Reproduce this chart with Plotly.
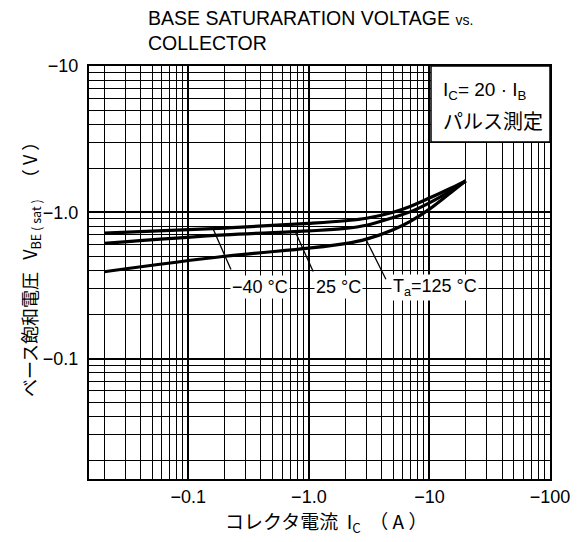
import numpy as np
import plotly.graph_objects as go

# ---- data (values are negative, as printed) ----
ic_a = [-0.02, -0.2, -1.0, -2.0, -3.0, -5.0, -7.0, -10.0, -15.0, -20.0]
vbe_m40 = [-0.72, -0.78, -0.84, -0.875, -0.91, -1.0, -1.10, -1.25, -1.46, -1.64]
vbe_25 = [-0.613, -0.70, -0.745, -0.775, -0.815, -0.92, -1.01, -1.16, -1.40, -1.64]
vbe_125 = [-0.392, -0.50, -0.568, -0.61, -0.655, -0.76, -0.87, -1.05, -1.36, -1.64]
series_labels = ["−40 °C", "25 °C", "T<sub>a</sub>=125 °C"]
leader_ic = [-0.16, -0.77, -2.97]

x_tick_vals = [-0.1, -1.0, -10, -100]
x_tick_text = ["−0.1", "−1.0", "−10", "−100"]
y_tick_vals = [-0.1, -1.0, -10]
y_tick_text = ["−0.1", "−1.0", "−10"]

W, H = 578, 542
ML, MR, MT, MB = 89, 28, 66, 63
PW, PH = W - ML - MR, H - MT - MB
XR = [np.log10(0.015), 2.0]
YR = [np.log10(0.015), 1.0]

FONT = "Liberation Sans, Arial, Noto Sans CJK JP, sans-serif"
JFONT = "Noto Sans CJK JP, Liberation Sans, sans-serif"


def px2paper(px, py):
    return (px - ML) / PW, (H - MB - py) / PH


def log2px(lx, ly):
    return (ML + (lx - XR[0]) / (XR[1] - XR[0]) * PW,
            H - MB - (ly - YR[0]) / (YR[1] - YR[0]) * PH)


fig = go.Figure()
all_series = [vbe_m40, vbe_25, vbe_125]
for s, name in zip(all_series, series_labels):
    fig.add_trace(go.Scatter(
        x=np.abs(ic_a), y=np.abs(s), mode="lines", name=name,
        line=dict(color="black", width=3.2, shape="spline", smoothing=1.0),
        showlegend=False, hoverinfo="skip"))

axis_common = dict(
    type="log", showline=True, mirror=True, linecolor="black", linewidth=2,
    showgrid=True, gridcolor="black", gridwidth=1.5,
    minor=dict(dtick="D1", showgrid=True, gridcolor="black", gridwidth=1.3, ticks=""),
    ticks="", zeroline=False,
    tickfont=dict(family=FONT, size=18, color="black"),
)
fig.update_xaxes(**axis_common, range=XR,
                 tickvals=np.abs(x_tick_vals), ticktext=x_tick_text, ticklabelstandoff=0)
fig.update_yaxes(**axis_common, range=YR,
                 tickvals=np.abs(y_tick_vals), ticktext=y_tick_text, ticklabelstandoff=5)

# condition box at top right
bx0, by0 = px2paper(431, 142)
fig.add_shape(type="rect", xref="paper", yref="paper", x0=bx0, x1=1, y0=by0, y1=1,
              fillcolor="white", line=dict(color="black", width=1.5), layer="above")

ann = []
lx, ly = px2paper(441, 91)
ann.append(dict(xref="paper", yref="paper", x=lx, y=ly, xanchor="left", yanchor="middle",
                text="I<sub>C</sub>= 20 · I<sub>B</sub>", showarrow=False,
                font=dict(family=FONT, size=19, color="black")))
lx, ly = px2paper(441, 121)
ann.append(dict(xref="paper", yref="paper", x=lx, y=ly, xanchor="left", yanchor="middle",
                text="パルス測定", showarrow=False,
                font=dict(family=JFONT, size=20, color="black")))

# curve labels with leader lines (leaders drawn as line shapes in paper space)
label_pos = [(260, 287), (338, 287), (435, 287)]
tail_off = [(18, 41), (18, 40), (20, 40)]
for s, name, lic, (tx, ty), (ox, oy) in zip(all_series, series_labels, leader_ic, label_pos, tail_off):
    lxv = np.log10(abs(lic))
    lyv = np.interp(lxv, np.log10(np.abs(ic_a)), np.log10(np.abs(s)))
    tipx, tipy = log2px(lxv, lyv)
    p0 = px2paper(tipx, tipy)
    p1 = px2paper(tipx + ox, tipy + oy)
    fig.add_shape(type="line", xref="paper", yref="paper",
                  x0=p0[0], y0=p0[1], x1=p1[0], y1=p1[1],
                  line=dict(color="black", width=1.3), layer="above")
    px_, py_ = px2paper(tx, ty)
    ann.append(dict(xref="paper", yref="paper", x=px_, y=py_, text=name, showarrow=False,
                    xanchor="center", yanchor="middle", bgcolor="white", borderpad=1,
                    font=dict(family=FONT, size=18, color="black")))

# title
tx, ty = px2paper(146, 5)
ann.append(dict(xref="paper", yref="paper", x=tx, y=ty, xanchor="left", yanchor="top",
                align="left", showarrow=False,
                text="BASE SATURARATION VOLTAGE <span style='font-size:14px'>vs.</span><br>COLLECTOR",
                font=dict(family=FONT, size=19.5, color="black")))

# axis titles
tx, ty = px2paper(326, 522)
ann.append(dict(xref="paper", yref="paper", x=tx, y=ty, xanchor="center", yanchor="middle",
                showarrow=False, text="コレクタ電流  I<sub>C</sub>  （ A ）",
                font=dict(family=JFONT, size=19, color="black")))
tx, ty = px2paper(30, 265)
ann.append(dict(xref="paper", yref="paper", x=tx, y=ty, xanchor="center", yanchor="middle",
                showarrow=False, textangle=-90,
                text="ベース飽和電圧   V<sub>BE ( sat )</sub>   （ V ）",
                font=dict(family=JFONT, size=18, color="black")))

fig.update_layout(
    width=W, height=H, margin=dict(l=ML, r=MR, t=MT, b=MB, autoexpand=False),
    paper_bgcolor="white", plot_bgcolor="white", annotations=ann,
    font=dict(family=FONT, color="black"),
)

fig.write_html("out.html", config={"displayModeBar": False},
               post_script="document.body.style.margin='0';")
